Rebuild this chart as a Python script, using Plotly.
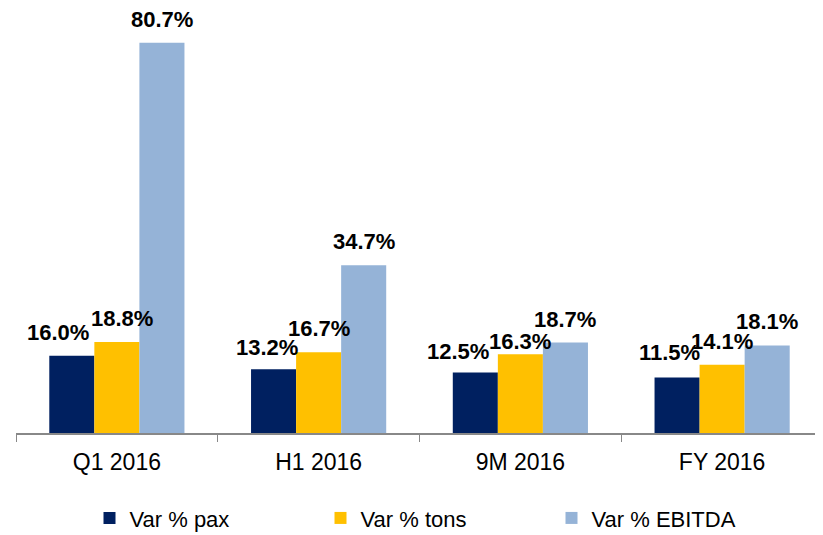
import plotly.graph_objects as go

categories = ["Q1 2016", "H1 2016", "9M 2016", "FY 2016"]
pax = [16.0, 13.2, 12.5, 11.5]
tons = [18.8, 16.7, 16.3, 14.1]
ebitda = [80.7, 34.7, 18.7, 18.1]

series = [
    ("Var % pax", pax, "#002060"),
    ("Var % tons", tons, "#FFC000"),
    ("Var % EBITDA", ebitda, "#95B3D7"),
]
# label pixel nudges per series/category, to mimic the reference placement
label_xshift = [[-14, -7, -17, -8], [5, 0, 0, 0], [0, 0, 0, 0]]
label_yshift = [[9, 7, 7, 10], [9, 9, -2, 9], [9, 9, 9, 9]]

fig = go.Figure()
for name, vals, color in series:
    fig.add_trace(go.Bar(
        x=categories, y=vals, name=name,
        marker=dict(color=color, line=dict(width=0)),
    ))

n = len(series)
group_w = 1 - 0.33
bar_w = group_w / n
for si, (name, vals, color) in enumerate(series):
    off = -group_w / 2 + bar_w * (si + 0.5)
    for ci, v in enumerate(vals):
        fig.add_annotation(
            x=ci + off, y=v, xref="x", yref="y",
            text=f"{v:.1f}%", showarrow=False,
            yanchor="bottom", xanchor="center",
            xshift=label_xshift[si][ci], yshift=label_yshift[si][ci],
            font=dict(family="Liberation Sans, Arial, sans-serif", size=22,
                      color="#000000", weight="bold"),
        )

# page body has an 8px margin, so the figure is sized 8px smaller
fig.update_layout(
    width=815, height=527,
    margin=dict(l=8, r=0, t=0, b=102, autoexpand=False),
    barmode="group", bargap=0.33, bargroupgap=0,
    plot_bgcolor="white", paper_bgcolor="white",
    font=dict(family="Liberation Sans, Arial, sans-serif", color="#000000"),
    showlegend=True,
    legend=dict(
        orientation="h", xref="container", yref="container",
        x=0.1, y=0.032, xanchor="left", yanchor="middle",
        entrywidth=186, entrywidthmode="pixels",
        font=dict(size=22), itemwidth=30,
    ),
    xaxis=dict(
        showline=True, linecolor="#888888", linewidth=1.5,
        ticks="outside", tickson="boundaries", ticklen=7, tickcolor="#888888",
        tickfont=dict(size=23), showgrid=False, ticklabelstandoff=8,
        automargin=False,
    ),
    yaxis=dict(range=[0, 87.9], visible=False, showgrid=False, automargin=False),
)

fig.write_html("out.html")
